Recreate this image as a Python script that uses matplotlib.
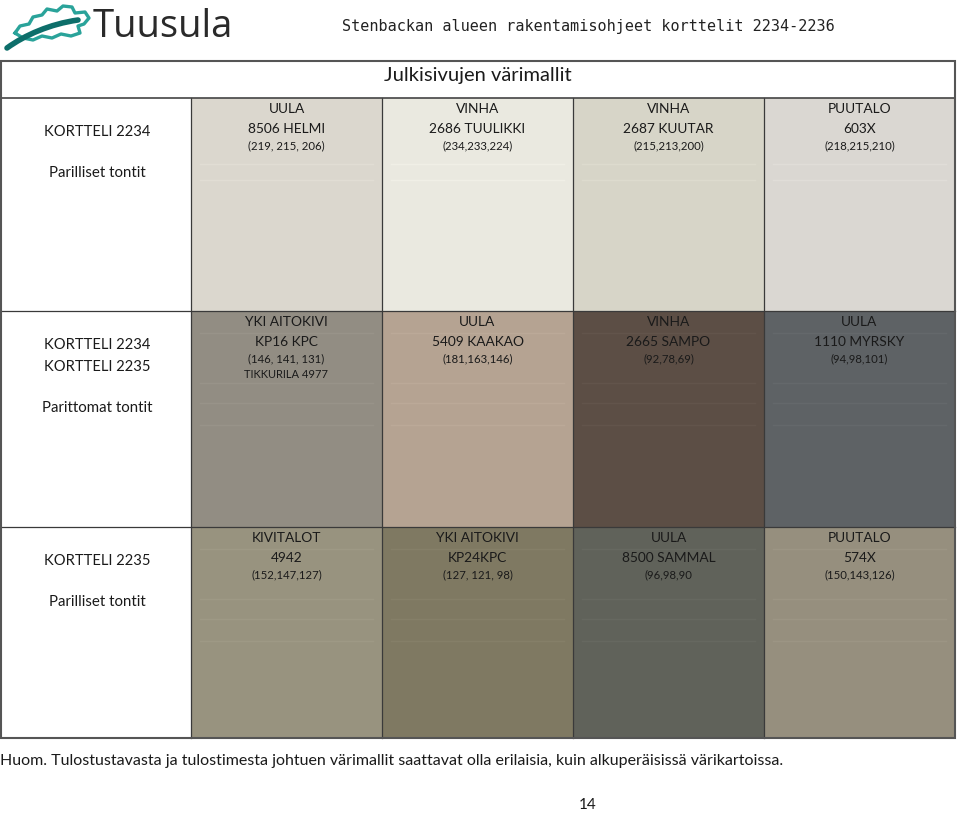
import matplotlib
matplotlib.use("Agg")
import matplotlib.pyplot as plt
from matplotlib.patches import Rectangle, PathPatch
from matplotlib.path import Path
import numpy as np

# ---------------- data ----------------
row_titles = [
    ["KORTTELI 2234"],
    ["KORTTELI 2234", "KORTTELI 2235"],
    ["KORTTELI 2235"],
]
row_subtitles = ["Parilliset tontit", "Parittomat tontit", "Parilliset tontit"]

brand_names = [
    ["UULA", "VINHA", "VINHA", "PUUTALO"],
    ["YKI AITOKIVI", "UULA", "VINHA", "UULA"],
    ["KIVITALOT", "YKI AITOKIVI", "UULA", "PUUTALO"],
]
colour_names = [
    ["8506 HELMI", "2686 TUULIKKI", "2687 KUUTAR", "603X"],
    ["KP16 KPC", "5409 KAAKAO", "2665 SAMPO", "1110 MYRSKY"],
    ["4942", "KP24KPC", "8500 SAMMAL", "574X"],
]
rgb_values = [
    [(219, 215, 206), (234, 233, 224), (215, 213, 200), (218, 215, 210)],
    [(146, 141, 131), (181, 163, 146), (92, 78, 69), (94, 98, 101)],
    [(152, 147, 127), (127, 121, 98), (96, 98, 90), (150, 143, 126)],
]
rgb_labels = [
    ["(219, 215, 206)", "(234,233,224)", "(215,213,200)", "(218,215,210)"],
    ["(146, 141, 131)", "(181,163,146)", "(92,78,69)", "(94,98,101)"],
    ["(152,147,127)", "(127, 121, 98)", "(96,98,90", "(150,143,126)"],
]
extra_labels = [
    ["", "", "", ""],
    ["TIKKURILA 4977", "", "", ""],
    ["", "", "", ""],
]

page_title = "Stenbackan alueen rakentamisohjeet korttelit 2234-2236"
table_title = "Julkisivujen värimallit"
footnote = ("Huom. Tulostustavasta ja tulostimesta johtuen värimallit saattavat olla erilaisia, "
            "kuin alkuperäisissä värikartoissa.")
page_number = "14"

# ---------------- layout ----------------
W, H = 960, 813
fig = plt.figure(figsize=(W / 100, H / 100), dpi=100)
ax = fig.add_axes([0, 0, 1, 1])
ax.set_xlim(0, W)
ax.set_ylim(H, 0)
ax.axis("off")

FONT = ["Lato", "DejaVu Sans"]
text_col = "#1a1a1a"

left, right = 1, 955
top, head_bot = 61, 98
row_edges = [98, 311, 527, 738]
col_edges = [1, 191, 382, 573, 764, 955]

# swatches
for r in range(3):
    for c in range(4):
        x0, x1 = col_edges[c + 1], col_edges[c + 2]
        y0, y1 = row_edges[r], row_edges[r + 1]
        col = tuple(v / 255 for v in rgb_values[r][c])
        ax.add_patch(Rectangle((x0, y0), x1 - x0, y1 - y0, facecolor=col,
                               edgecolor="none", zorder=1))
        # faint scan lines (slightly lighter)
        light = tuple(min(1, v + 0.022) for v in col)
        for yy in ([row_edges[r] + 22, row_edges[r] + 72, row_edges[r] + 92, row_edges[r] + 114]
                   if r > 0 else [row_edges[r] + 66, row_edges[r] + 82]):
            ax.plot([x0 + 9, x1 - 9], [yy, yy], color=light, lw=1.0, zorder=2)
        cx = (x0 + x1) / 2
        ax.text(cx, y0 + 11, brand_names[r][c], ha="center", va="center",
                fontsize=9.9, color=text_col, family=FONT, zorder=5)
        ax.text(cx, y0 + 31, colour_names[r][c], ha="center", va="center",
                fontsize=9.9, color=text_col, family=FONT, zorder=5)
        ax.text(cx, y0 + 48, rgb_labels[r][c], ha="center", va="center",
                fontsize=8.2, color=text_col, family=FONT, zorder=5)
        if extra_labels[r][c]:
            ax.text(cx, y0 + 63, extra_labels[r][c], ha="center", va="center",
                    fontsize=8.0, color=text_col, family=FONT, zorder=5)

# row labels
for r in range(3):
    y0 = row_edges[r]
    cx = (col_edges[0] + col_edges[1]) / 2 + 1
    titles = row_titles[r]
    for i, t in enumerate(titles):
        ax.text(cx, y0 + 34 + 22 * i, t, ha="center", va="center",
                fontsize=10.6, color=text_col, family=FONT, zorder=5)
    ax.text(cx, y0 + 75 + (22 if len(titles) > 1 else 0), row_subtitles[r],
            ha="center", va="center", fontsize=10.8, color=text_col, family=FONT, zorder=5)

# grid lines
line_c = "#3a3a3a"
for x in col_edges[1:-1]:
    ax.plot([x, x], [head_bot, row_edges[-1]], color=line_c, lw=0.9, zorder=6)
for y in row_edges[1:-1]:
    ax.plot([left, right], [y, y], color=line_c, lw=0.9, zorder=6)
ax.plot([left, right], [head_bot, head_bot], color="#444444", lw=1.2, zorder=6)
ax.add_patch(Rectangle((left, top), right - left, row_edges[-1] - top, facecolor="none",
                       edgecolor="#555555", lw=1.5, zorder=7))

ax.text(478, 76, table_title, ha="center", va="center", fontsize=14.5,
        color=text_col, family=FONT, zorder=5)

# header
ax.text(588, 26, page_title, ha="center", va="center", fontsize=10.9,
        color="#222222", family=["DejaVu Sans Mono"])
ax.text(163, 27, "Tuusula", ha="center", va="center", fontsize=27.5,
        color="#2a2a2a", family=["Open Sans", "DejaVu Sans"])

# logo leaf
leaf_pts = [(15, 33), (20, 26), (29, 24), (33, 17), (42, 15), (47, 9), (57, 11), (63, 6),
            (72, 7), (75, 13), (85, 12), (89, 18), (84, 24), (78, 26), (80, 33), (71, 36),
            (61, 34), (52, 38), (42, 36), (33, 40), (23, 38), (15, 33)]
lx, ly = zip(*leaf_pts)
ax.plot(lx, ly, color="#2aa39a", lw=2.4, solid_joinstyle="round", zorder=3)
verts = [(7, 48), (25, 35), (50, 24), (78, 20)]
sw = Path(verts, [Path.MOVETO, Path.CURVE4, Path.CURVE4, Path.CURVE4])
ax.add_patch(PathPatch(sw, facecolor="none", edgecolor="#0d6e6a", lw=4, capstyle="round", zorder=4))

# footnote and page number
ax.text(0, 761, footnote, ha="left", va="center", fontsize=11.5,
        color=text_col, family=FONT)
ax.text(588, 805, page_number, ha="center", va="center", fontsize=11,
        color=text_col, family=FONT)

fig.savefig("out.png", dpi=100)
